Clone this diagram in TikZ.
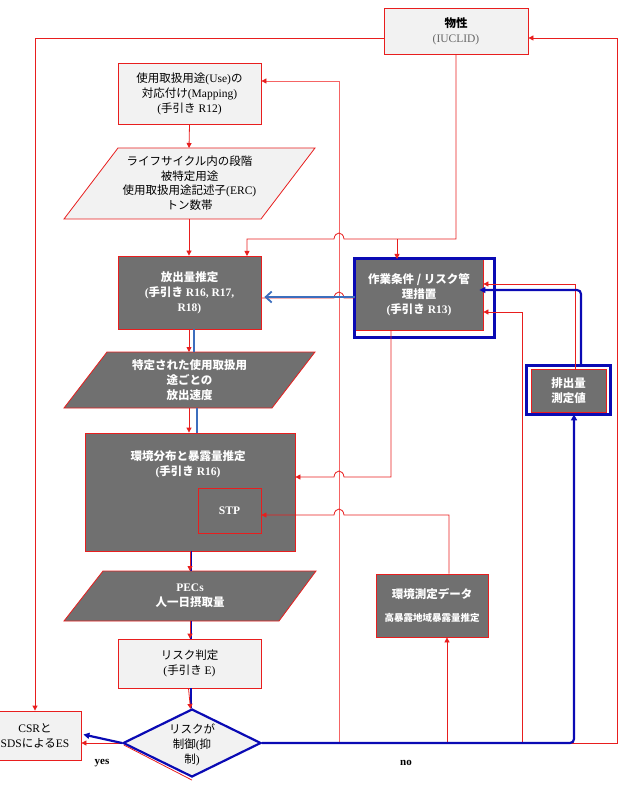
\documentclass[tikz,border=0pt]{standalone}
\usepackage{fontspec}
\setmainfont{Liberation Serif}
\newfontfamily\cjk{Noto Sans CJK JP}
\newcommand\jp[1]{{\cjk #1}}
\usetikzlibrary{arrows.meta,shapes.geometric}
\definecolor{dkgray}{RGB}{112,112,112}
\definecolor{ltgray}{RGB}{242,242,242}
\definecolor{rline}{RGB}{232,30,30}
\definecolor{pline}{RGB}{245,100,100}
\definecolor{bline}{RGB}{10,10,180}
\definecolor{sblue}{RGB}{60,110,190}
\begin{document}
\begin{tikzpicture}[x=1pt,y=-1pt,
  lbox/.style={draw=rline, fill=ltgray, line width=0.8pt, inner sep=0, align=center, font=\fontsize{11.5}{15}\selectfont},
  dbox/.style={draw=rline, fill=dkgray, line width=0.8pt, inner sep=0, align=center, text=white, font=\bfseries\fontsize{11.5}{15}\selectfont},
  dtext/.style={align=center, text=white, inner sep=0, font=\bfseries\fontsize{11.5}{15}\selectfont},
  ltext/.style={align=center, inner sep=0, font=\fontsize{11.5}{15}\selectfont},
  rarr/.style={draw=rline, line width=0.8pt, -{Triangle[length=5pt,width=5pt]}},
  parr/.style={draw=pline, line width=0.8pt, -{Triangle[length=5pt,width=5pt]}, arrows={[color=rline]}},
  rln/.style={draw=rline, line width=0.8pt},
  barr/.style={draw=bline, line width=2.2pt, -{Triangle[length=6pt,width=6pt]}},
  bln/.style={draw=bline, line width=2.2pt},
  bframe/.style={draw=bline, line width=2.4pt},
  lbl/.style={inner sep=0, font=\bfseries\fontsize{11}{12}\selectfont}
]
\useasboundingbox (0,0) rectangle (618,791);

% boxes
\node[lbox, minimum width=144, minimum height=46] (phys) at (456,31) {{\bfseries\jp{物性}}\\{\color{gray!80!black}(IUCLID)}};
\node[lbox, minimum width=143, minimum height=61] (use) at (189.5,93.5) {\jp{使用取扱用途}(Use)\jp{の}\\\jp{対応付け}(Mapping)\\(\jp{手引き} R12)};

\draw[draw=rline, fill=ltgray, line width=0.8pt] (118,148) -- (315,148) -- (261,219) -- (64,219) -- cycle;
\node[ltext, font=\fontsize{11.5}{14.5}\selectfont] (p1) at (189.5,183) {\jp{ライフサイクル内の段階}\\\jp{被特定用途}\\\jp{使用取扱用途記述子}(ERC)\\\jp{トン数帯}};
\coordinate (p1t) at (189,148);
\coordinate (p1b) at (189,219);

\node[dbox, minimum width=143, minimum height=73] (rel) at (189.5,292.5) {\jp{放出量推定}\\(\jp{手引き} R16, R17,\\R18)};

\node[dbox, minimum width=128, minimum height=71] (work) at (419,294.5) {\jp{作業条件 / リスク管}\\\jp{理措置}\\(\jp{手引き} R13)};
\draw[bframe] (work.north west) rectangle ([xshift=11pt,yshift=-7pt]work.south east);

\draw[draw=rline, fill=dkgray, line width=0.8pt] (107,352) -- (315,352) -- (272,408) -- (64,408) -- cycle;
\node[dtext] (p2) at (189.5,380) {\jp{特定された使用取扱用}\\\jp{途ごとの}\\\jp{放出速度}};
\coordinate (p2t) at (189,352);
\coordinate (p2b) at (189,408);

\node[dbox, minimum width=210, minimum height=118] (env) at (190,492) {};
\node[dtext] (envt) at (188,464.5) {\jp{環境分布と暴露量推定}\\(\jp{手引き} R16)};
\node[dbox, minimum width=63, minimum height=45] (stp) at (229.5,510.5) {STP};

\draw[draw=rline, fill=dkgray, line width=0.8pt] (103,571) -- (316,571) -- (279,621) -- (64,621) -- cycle;
\node[dtext] (p3) at (190,596) {PECs\\\jp{人一日摂取量}};
\coordinate (p3t) at (190,571);
\coordinate (p3b) at (190,621);

\node[lbox, minimum width=143, minimum height=49] (risk) at (189.5,663.5) {\jp{リスク判定}\\(\jp{手引き} E)};

\node[dbox, minimum width=75, minimum height=43] (exm) at (568.5,390.5) {\jp{排出量}\\\jp{測定値}};
\draw[bframe] ([xshift=-4pt,yshift=3pt]exm.north west) rectangle ([xshift=4pt,yshift=-2pt]exm.south east);

\node[dbox, minimum width=112, minimum height=63] (envm) at (432,605.5) {\jp{環境測定データ}\\[8pt]{\fontsize{9.5}{11}\selectfont\jp{高暴露地域暴露量推定}}};

\node[lbox, minimum width=92, minimum height=49] (csr) at (35,735.5) {CSR\jp{と}\\SDS\jp{による}ES};

\node[diamond, draw=bline, line width=2.2pt, fill=ltgray, minimum width=138, minimum height=68, inner sep=0] (dia) at (192,743) {};
\draw[rln] ([xshift=2pt,yshift=-2pt]dia.west) -- ([yshift=-2pt]dia.south);
\node[ltext] (diat) at (192,745) {\jp{リスクが}\\\jp{制御}(\jp{抑}\\\jp{制})};

\node[lbl] (yes) at (102,763) {yes};
\node[lbl] (no) at (406,763) {no};

% pale vertical line to Use box
\draw[parr] (339,743) -- (339,81) -- ([yshift=12.5pt]use.east);

% main vertical flow
\draw[rarr] (use.south) -- (p1t);
\draw[rarr] (p1b) -- (p1b |- rel.north);
\draw[draw=sblue, line width=1.4pt] ([xshift=4.5pt]rel.south) -- (194,352);
\draw[rarr] (rel.south -| p2t) -- (p2t);
\draw[draw=sblue, line width=1.4pt] (197,408) -- ([xshift=7pt]env.north);
\draw[rarr] (p2b) -- (p2b |- env.north);
\draw[bln] ([xshift=1pt]env.south) -- ([xshift=1pt]p3t);
\draw[bln] ([xshift=1pt]p3b) -- ([xshift=1.5pt]risk.south |- risk.north);
\draw[bln] ([xshift=1.5pt]risk.south) -- ([xshift=-1pt]dia.north);
\draw[rarr] (env.south -| p3t) -- (p3t);
\draw[rarr] (p3b) -- (p3b |- risk.north);
\draw[rarr] ([xshift=-1pt]risk.south) -- ([xshift=-1.5pt,yshift=-1pt]dia.north);

% from phys
\draw[rarr] (phys.south) -- (456,239) -- (344,239) .. controls (343,231) and (335,231) .. (334,239) -- (247,239) -- (247,256);
\draw[rarr] (397,239) -- (397,259);
\draw[rarr] ([yshift=-7pt]phys.west) -| (csr.north);

% work -> rel
\draw[rln] (work.west |- 0,298) -- (344,298) .. controls (343,290) and (335,290) .. (334,298) -- ([yshift=-5.5pt]rel.east);
\draw[draw=sblue, line width=1.8pt, -{Straight Barb[length=6pt,width=11pt]}] (work.west |- 0,297) -- ([yshift=-4.5pt,xshift=3pt]rel.east);

% work -> env
\draw[rarr] ([xshift=-28pt]work.south) -- (391,477) -- (344,477) .. controls (343,469) and (335,469) .. (334,477) -- ([yshift=15pt]env.east);

% envm -> stp
\draw[rarr] ([xshift=17pt]envm.north) -- (449,515) -- (344,515) .. controls (343,507) and (335,507) .. (334,515) -- ([yshift=-4.5pt]stp.east);

% bottom loop
\draw[rarr] (dia.east) -- (617,743) -- (617,38) -- ([yshift=-7pt]phys.east);
\draw[rarr] (447,743) -- ([xshift=15pt]envm.south);
\draw[rarr] (522,743) -- (522,312) -- ([yshift=-17.5pt]work.east);
\draw[rarr] ([xshift=6.5pt]exm.north) -- (575,284) -- ([yshift=10.5pt]work.east);
\draw[barr, rounded corners=4pt] ([xshift=12.5pt,yshift=3pt]exm.north) -- (581,290) -- ([yshift=4.5pt,xshift=-4pt]work.east);
\draw[barr, rounded corners=4pt] (dia.east) -- (574,743) -- ([xshift=5.5pt,yshift=-2pt]exm.south);

% to CSR
\draw[rarr] (dia.west) -- (dia.west -| csr.east);
\draw[barr] (dia.west) -- ([xshift=2pt,yshift=1pt]csr.east);
\end{tikzpicture}
\end{document}
